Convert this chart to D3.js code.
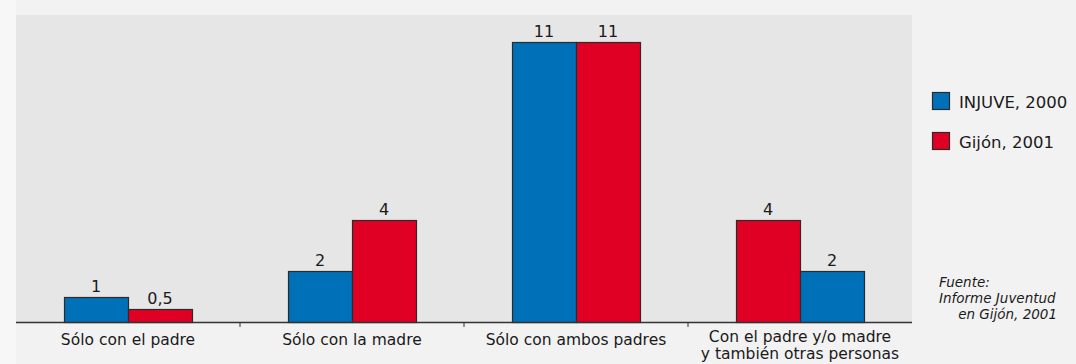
<!DOCTYPE html>
<html>
<head>
<meta charset="utf-8">
<script src="https://cdn.jsdelivr.net/npm/d3@7"></script>
<style>
  html, body { margin: 0; padding: 0; background: #f2f2f2; }
  svg { display: block; }
</style>
</head>
<body>
<svg id="chart" width="1076" height="364"></svg>
<script>
// Categories and values (per cent)
const categories = [
  ["Sólo con el padre"],
  ["Sólo con la madre"],
  ["Sólo con ambos padres"],
  ["Con el padre y/o madre", "y también otras personas"]
];
const injuve = [1, 2, 11, 2];
const gijon = [0.5, 4, 11, 4];
const valueLabels = {
  injuve: ["1", "2", "11", "2"],
  gijon: ["0,5", "4", "11", "4"]
};
// Series order within each group (the last group shows Gijón first)
const seriesOrder = [
  ["injuve", "gijon"],
  ["injuve", "gijon"],
  ["injuve", "gijon"],
  ["gijon", "injuve"]
];
const seriesNames = { injuve: "INJUVE, 2000", gijon: "Gijón, 2001" };
const seriesColors = { injuve: "#0071b9", gijon: "#e00024" };
const seriesValues = { injuve, gijon };
const sourceLines = ["Fuente:", "Informe Juventud", "en Gijón, 2001"];

const svg = d3.select("#chart");
const font = "'DejaVu Sans', Verdana, sans-serif";

// Page bands
svg.append("rect").attr("x", 0).attr("y", 0).attr("width", 16).attr("height", 364).attr("fill", "#f7f7f7");

const plot = { left: 16, right: 912, top: 15, bottom: 322 };
svg.append("rect")
  .attr("x", plot.left).attr("y", plot.top)
  .attr("width", plot.right - plot.left).attr("height", plot.bottom - plot.top)
  .attr("fill", "#e6e6e6");

const x = d3.scaleBand().domain(d3.range(categories.length)).range([plot.left, plot.right]);
const barW = 64;
const y = d3.scaleLinear().domain([0, 11]).range([plot.bottom, 42]);

const groups = svg.append("g").selectAll("g")
  .data(d3.range(categories.length))
  .join("g")
  .attr("transform", i => `translate(${x(i) + x.bandwidth() / 2 - barW},0)`);

groups.each(function (i) {
  const g = d3.select(this);
  seriesOrder[i].forEach((s, j) => {
    const v = seriesValues[s][i];
    g.append("rect")
      .attr("x", j * barW + 0.5)
      .attr("y", Math.round(y(v)) + 0.5)
      .attr("width", barW)
      .attr("height", plot.bottom - Math.round(y(v)))
      .attr("fill", seriesColors[s])
      .attr("stroke", "#2b2b2b")
      .attr("stroke-width", 1.2);
    g.append("text")
      .attr("x", j * barW + barW / 2)
      .attr("y", y(v) - 5)
      .attr("text-anchor", "middle")
      .attr("font-family", font)
      .attr("font-size", 16)
      .attr("fill", "#1a1a1a")
      .text(valueLabels[s][i]);
  });
});

// Category axis
const axis = svg.append("g");
axis.append("line")
  .attr("x1", plot.left).attr("x2", plot.right)
  .attr("y1", plot.bottom + 0.5).attr("y2", plot.bottom + 0.5)
  .attr("stroke", "#333").attr("stroke-width", 1.5);
axis.selectAll("line.tick")
  .data(d3.range(1, categories.length))
  .join("line")
  .attr("class", "tick")
  .attr("x1", i => x(i)).attr("x2", i => x(i))
  .attr("y1", plot.bottom).attr("y2", plot.bottom + 5)
  .attr("stroke", "#333").attr("stroke-width", 1);
axis.selectAll("text.cat")
  .data(categories)
  .join("text")
  .attr("class", "cat")
  .attr("x", (d, i) => x(i) + x.bandwidth() / 2)
  .attr("y", d => d.length > 1 ? 342 : 345)
  .attr("text-anchor", "middle")
  .attr("font-family", font)
  .attr("font-size", 15.5)
  .attr("fill", "#1a1a1a")
  .each(function (d) {
    d3.select(this).selectAll("tspan")
      .data(d)
      .join("tspan")
      .attr("x", d3.select(this).attr("x"))
      .attr("dy", (t, k) => k === 0 ? 0 : 16.5)
      .text(t => t);
  });

// Legend
const legend = svg.append("g");
["injuve", "gijon"].forEach((s, k) => {
  const yy = 92 + k * 40;
  legend.append("rect")
    .attr("x", 932.5).attr("y", yy + 0.5)
    .attr("width", 17).attr("height", 17)
    .attr("fill", seriesColors[s]).attr("stroke", "#2b2b2b").attr("stroke-width", 1.2);
  legend.append("text")
    .attr("x", 959).attr("y", yy + 16)
    .attr("font-family", font).attr("font-size", 16.5)
    .attr("fill", "#1a1a1a")
    .text(seriesNames[s]);
});

// Source note
const src = svg.append("g")
  .attr("font-family", font).attr("font-size", 13.5).attr("font-style", "italic")
  .attr("fill", "#1a1a1a");
src.append("text").attr("x", 939).attr("y", 287).text(sourceLines[0]);
src.append("text").attr("x", 939).attr("y", 303).text(sourceLines[1]);
src.append("text").attr("x", 1057).attr("y", 319).attr("text-anchor", "end").text(sourceLines[2]);
</script>
</body>
</html>
